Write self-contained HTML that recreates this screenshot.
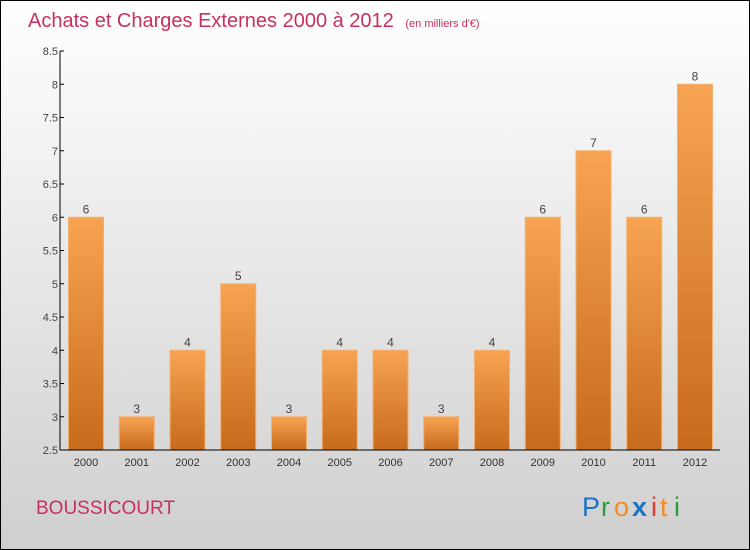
<!DOCTYPE html>
<html><head><meta charset="utf-8"><style>
body{margin:0}
svg{display:block;font-family:"Liberation Sans",sans-serif}
</style></head><body>
<svg id="c" width="750" height="550" xmlns="http://www.w3.org/2000/svg">
<defs>
<linearGradient id="bg" x1="0" y1="0" x2="0" y2="1"><stop offset="0" stop-color="#ffffff"/><stop offset="1" stop-color="#cfcfcf"/></linearGradient>
<linearGradient id="bar" x1="0" y1="0" x2="0" y2="1"><stop offset="0" stop-color="#f7a452"/><stop offset="1" stop-color="#c76b1c"/></linearGradient>
</defs>
<rect x="0.5" y="0.5" width="749" height="549" fill="url(#bg)" stroke="#000"/>
<text x="28" y="27" font-size="20" fill="#c8305e">Achats et Charges Externes 2000 à 2012 <tspan font-size="11" dx="6">(en milliers d'€)</tspan></text>
<text x="36" y="514" font-size="19" fill="#c8305e">BOUSSICOURT</text>
<g font-size="27" font-family="'Liberation Sans',sans-serif">
<text x="582" y="516" fill="#1a73c9">P</text><text x="601" y="516" fill="#2a9a3a">r</text><text x="614" y="516" fill="#f58a1f">o</text><text x="632" y="516" fill="#1a73c9" font-weight="bold">x</text><text x="651" y="516" fill="#e8392b">i</text><text x="660" y="516" fill="#f58a1f">t</text><text x="674" y="516" fill="#2a9a3a">i</text>
</g>
<g id="plot"></g>
</svg>
<script>
const years=["2000","2001","2002","2003","2004","2005","2006","2007","2008","2009","2010","2011","2012"];
const values=[6,3,4,5,3,4,4,3,4,6,7,6,8];
const yTicks=[2.5,3,3.5,4,4.5,5,5.5,6,6.5,7,7.5,8,8.5];
const NS="http://www.w3.org/2000/svg";
const g=document.getElementById('plot');
const x0=60,x1=720,yTop=51,yBot=450,vMin=2.5,vMax=8.5;
const y=v=>yBot-(v-vMin)/(vMax-vMin)*(yBot-yTop);
const step=50.75,bw=35;
const xc=i=>86+i*step;
function mk(t,a){const e=document.createElementNS(NS,t);for(const k in a)e.setAttribute(k,a[k]);g.appendChild(e);return e;}
values.forEach((v,i)=>{
 const r=mk('rect',{x:xc(i)-bw/2,y:y(v),width:bw,height:yBot-y(v),fill:'url(#bar)',stroke:'#f3b072','stroke-width':1});
 
 
 const t=mk('text',{x:xc(i),y:y(v)-4,'font-size':12,fill:'#444','text-anchor':'middle'});
 t.textContent=v;
 
 
 const xl=mk('text',{x:xc(i),y:466,'font-size':11,fill:'#333','text-anchor':'middle'});
 xl.textContent=years[i];
 
 
});
yTicks.forEach(v=>{
 const tk=mk('line',{x1:x0,x2:x0+4,y1:y(v),y2:y(v),stroke:'#000'});
 
 
 const tl=mk('text',{x:x0-2,y:y(v)+4,'font-size':11,fill:'#444','text-anchor':'end'});
 tl.textContent=v;
 
 
});
const ya=mk('line',{x1:x0,x2:x0,y1:yTop,y2:yBot,stroke:'#000'});


const xa=mk('line',{x1:x0,x2:x1,y1:yBot,y2:yBot,stroke:'#000'});


</script>
</body></html>
